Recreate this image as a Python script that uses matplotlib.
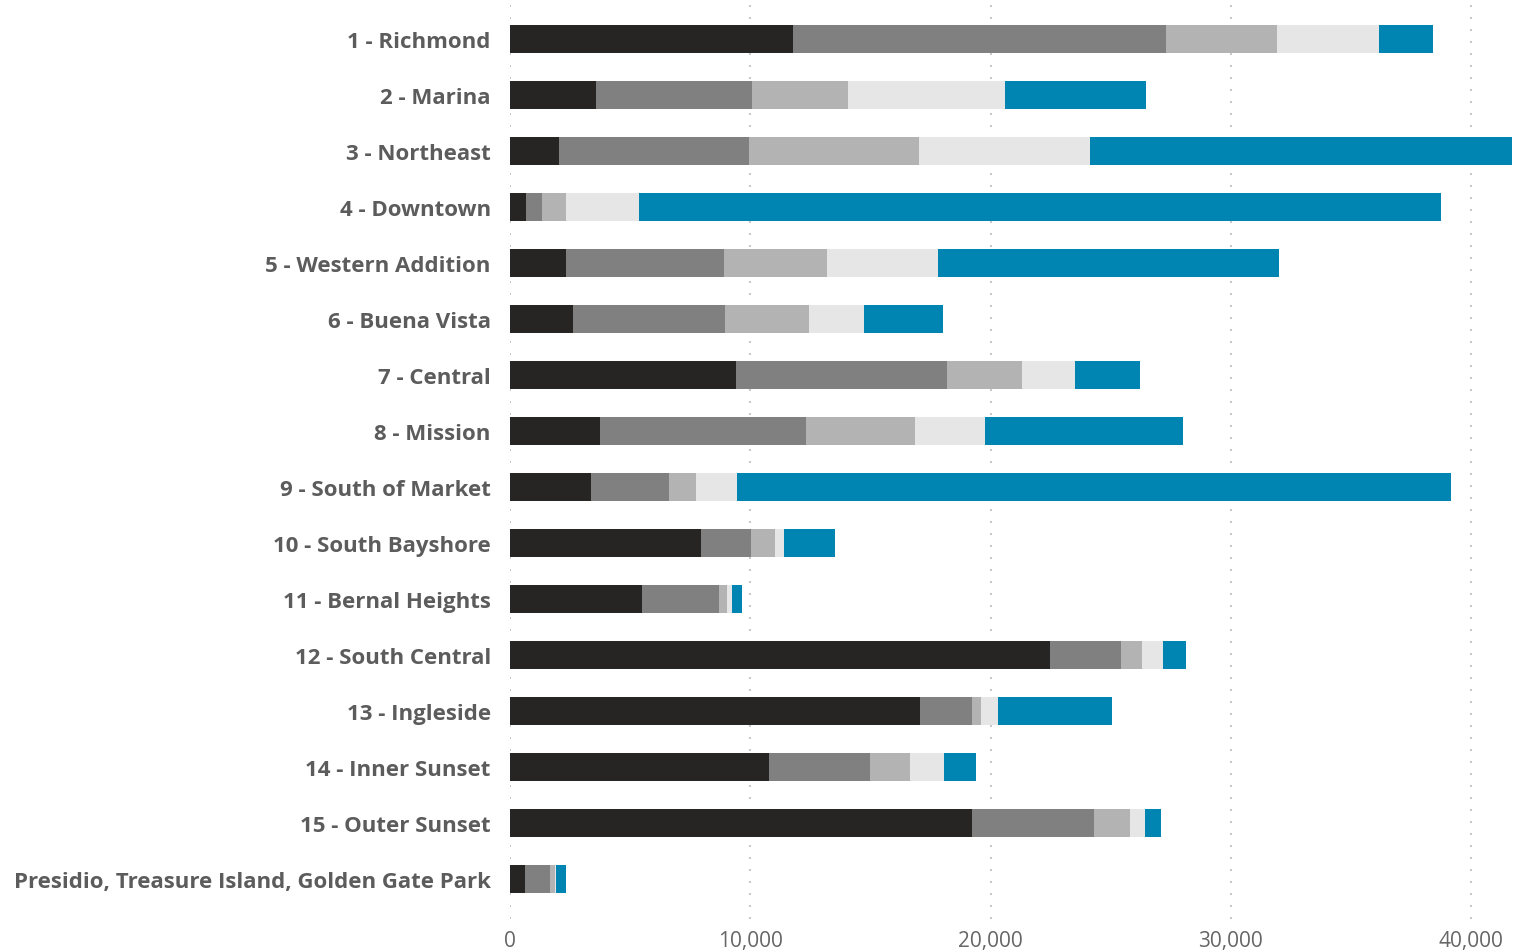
import numpy as np
import matplotlib.pyplot as plt
from matplotlib.ticker import FuncFormatter

districts = [
    "1 - Richmond", "2 - Marina", "3 - Northeast", "4 - Downtown",
    "5 - Western Addition", "6 - Buena Vista", "7 - Central", "8 - Mission",
    "9 - South of Market", "10 - South Bayshore", "11 - Bernal Heights",
    "12 - South Central", "13 - Ingleside", "14 - Inner Sunset",
    "15 - Outer Sunset", "Presidio, Treasure Island, Golden Gate Park",
]

# five stacked groups per district
seg1 = [11790, 3570, 2030, 650, 2320, 2610, 9400, 3740, 3360, 7950, 5490, 22490, 17070, 10780, 19240, 610]
seg2 = [15500, 6500, 7910, 670, 6580, 6340, 8800, 8580, 3250, 2080, 3210, 2960, 2170, 4210, 5080, 1040]
seg3 = [4650, 4000, 7090, 1000, 4290, 3500, 3120, 4540, 1130, 1000, 330, 870, 370, 1660, 1480, 210]
seg4 = [4240, 6530, 7120, 3040, 4630, 2290, 2210, 2920, 1710, 370, 210, 880, 710, 1420, 630, 40]
seg5 = [2260, 5870, 17570, 33410, 14180, 3290, 2690, 8240, 29730, 2130, 410, 950, 4750, 1330, 680, 420]

colors = ["#262524", "#808080", "#b3b3b3", "#e6e6e6", "#0085b3"]
x_ticks = [0, 10000, 20000, 30000, 40000]

fig = plt.figure(figsize=(15.29, 9.53), dpi=100)
ax = fig.add_axes([510.3 / 1529, 1 - 920 / 953, (1512 - 510.3) / 1529, 920 / 953])

y = np.arange(len(districts))
left = np.zeros(len(districts))
for vals, c in zip([seg1, seg2, seg3, seg4, seg5], colors):
    vals = np.array(vals, dtype=float)
    ax.barh(y, vals, left=left, height=0.5, color=c, zorder=3)
    left += vals

ax.set_ylim(len(districts) - 1 + 0.714, -0.714)
ax.set_xlim(0, left.max())

ax.set_yticks(y)
ax.set_yticklabels(districts, fontsize=16, fontweight="bold",
                   color="#5c5c5c", family="Open Sans")
ax.set_xticks(x_ticks)
ax.xaxis.set_major_formatter(FuncFormatter(lambda v, p: f"{int(v):,}"))
for lbl in ax.get_xticklabels():
    lbl.set_family("Open Sans")
    lbl.set_fontsize(15)
    lbl.set_color("#666666")

ax.tick_params(axis="both", length=0)
ax.tick_params(axis="y", pad=14)
ax.tick_params(axis="x", pad=8)
for s in ax.spines.values():
    s.set_visible(False)

ax.grid(axis="x", color="#c8c8c8", linewidth=1.44, linestyle=(0, (1, 5)), zorder=0)
ax.set_axisbelow(True)

fig.savefig("out.png", dpi=100)
